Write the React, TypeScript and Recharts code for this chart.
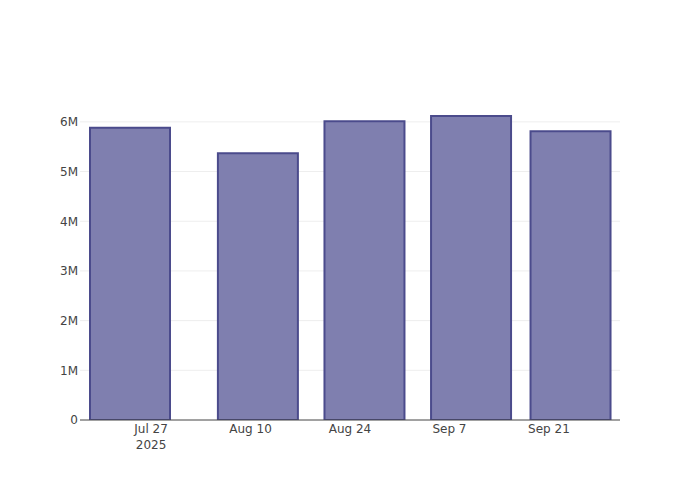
import { Bar, BarChart, CartesianGrid, XAxis, YAxis } from 'recharts'

const MONTHS = ['Jan', 'Feb', 'Mar', 'Apr', 'May', 'Jun', 'Jul', 'Aug', 'Sep', 'Oct', 'Nov', 'Dec']

const periodDates = ['2025-07-24', '2025-08-11', '2025-08-26', '2025-09-10', '2025-09-24']
const totals = [5880000, 5370000, 6010000, 6120000, 5810000]

const xTickDates = ['2025-07-27', '2025-08-10', '2025-08-24', '2025-09-07', '2025-09-21']
const xDomainDates = ['2025-07-17', '2025-10-01']
const yTicks = [0, 1000000, 2000000, 3000000, 4000000, 5000000, 6000000]
const yMax = 6440000

const toTime = (d: string) => Date.parse(d + 'T00:00:00Z')

const data = periodDates.map((d, i) => ({ t: toTime(d), total: totals[i] }))
const xTicks = xTickDates.map(toTime)

const fmtY = (v: number) => (v === 0 ? '0' : `${v / 1000000}M`)

function DateTick(props: any) {
  const { x, y, payload, index } = props
  const d = new Date(payload.value)
  const label = `${MONTHS[d.getUTCMonth()]} ${d.getUTCDate()}`
  return (
    <text x={x} y={y} textAnchor='middle' fill='#444' fontSize={12}>
      <tspan x={x} dy={13}>{label}</tspan>
      {index === 0 && (
        <tspan x={x} dy={16}>{d.getUTCFullYear()}</tspan>
      )}
    </text>
  )
}

export default function App() {
  return (
    <div
      style={{
        position: 'absolute',
        left: 0,
        top: 0,
        width: 700,
        height: 500,
        fontFamily: '"DejaVu Sans", sans-serif',
      }}
    >
      <BarChart
        width={700}
        height={500}
        data={data}
        margin={{ top: 100, right: 80, left: 0, bottom: 50 }}
      >
        <CartesianGrid
          vertical={false}
          stroke='#eeeeee'
          horizontalValues={yTicks.slice(1)}
        />
        <XAxis
          dataKey='t'
          type='number'
          scale='time'
          domain={xDomainDates.map(toTime)}
          ticks={xTicks}
          interval={0}
          tick={<DateTick />}
          tickLine={false}
          tickSize={0}
          tickMargin={0}
          height={30}
          stroke='#444'
          allowDataOverflow
        />
        <YAxis
          width={80}
          domain={[0, yMax]}
          ticks={yTicks}
          tickFormatter={fmtY}
          axisLine={false}
          tickLine={false}
          tickSize={0}
          tickMargin={2}
          tick={{ fill: '#444', fontSize: 12 }}
          allowDataOverflow
        />
        <Bar
          dataKey='total'
          barSize={80}
          fill='#7f7faf'
          stroke='#4b4b8c'
          strokeWidth={2}
          isAnimationActive={false}
        />
      </BarChart>
    </div>
  )
}
